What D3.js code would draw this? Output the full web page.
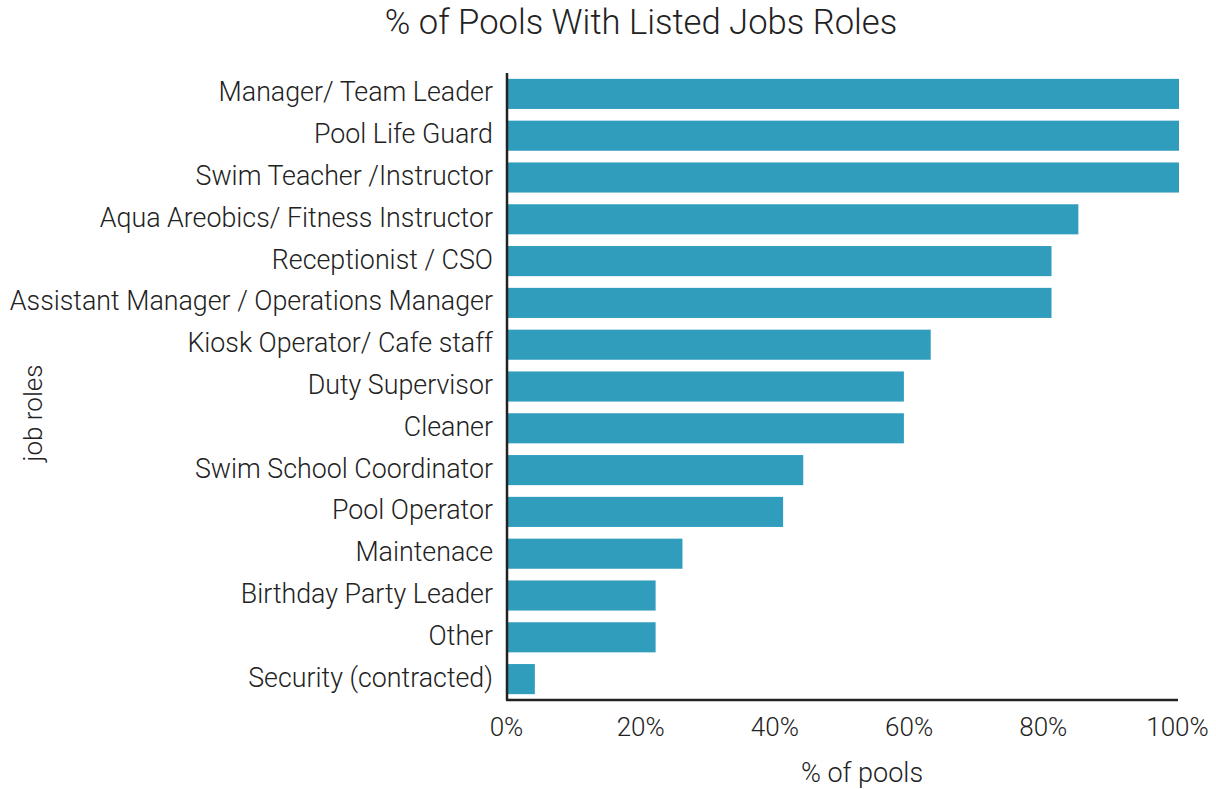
<!DOCTYPE html>
<html>
<head>
<meta charset="utf-8">
<script src="https://cdn.jsdelivr.net/npm/d3@7"></script>
<style>
  html, body { margin: 0; padding: 0; background: #fff; }
  svg { display: block; font-family: Roboto, "Liberation Sans", sans-serif; font-weight: 300; }
</style>
</head>
<body>
<svg id="chart" width="1216" height="789"></svg>
<script>
// Job roles and share of pools that list each one (%)
const roles = [
  "Manager/ Team Leader",
  "Pool Life Guard",
  "Swim Teacher /Instructor",
  "Aqua Areobics/ Fitness Instructor",
  "Receptionist / CSO",
  "Assistant Manager / Operations Manager",
  "Kiosk Operator/ Cafe staff",
  "Duty Supervisor",
  "Cleaner",
  "Swim School Coordinator",
  "Pool Operator",
  "Maintenace",
  "Birthday Party Leader",
  "Other",
  "Security (contracted)"
];
const shares = [100, 100, 100, 85, 81, 81, 63, 59, 59, 44, 41, 26, 22, 22, 4];
const xTicks = [0, 20, 40, 60, 80, 100];

const chartTitle = "% of Pools With Listed Jobs Roles";
const xTitle = "% of pools";
const yTitle = "job roles";

const data = roles.map((r, i) => ({ role: r, value: shares[i] }));

const svg = d3.select("#chart");
const textColor = "#222";
const barColor = "#319dbd";

const plot = { left: 507, right: 1178, top: 73, bottom: 700 };

const x = d3.scaleLinear().domain([0, 100]).range([plot.left + 1, plot.right + 1]);
const y = d3.scaleBand()
  .domain(roles)
  .range([plot.top, plot.bottom])
  .paddingInner(0.28)
  .paddingOuter(0.14);

// bars
svg.append("g")
  .selectAll("rect")
  .data(data)
  .join("rect")
  .attr("x", x(0))
  .attr("y", d => y(d.role))
  .attr("width", d => x(d.value) - x(0))
  .attr("height", y.bandwidth())
  .attr("fill", barColor);

// y axis: category labels, no ticks
const yAxis = svg.append("g")
  .attr("transform", `translate(${plot.left},0)`)
  .call(d3.axisLeft(y).tickSize(0).tickPadding(14));
yAxis.select(".domain").attr("stroke", textColor).attr("stroke-width", 2.5)
  .attr("d", `M0,${plot.top}V${plot.bottom}`);
yAxis.selectAll("text")
  .attr("fill", textColor)
  .attr("dy", "0.28em")
  .style("font-family", "Roboto, sans-serif")
  .style("font-weight", 300)
  .style("font-size", "26.8px");

// x axis: percentage labels, no ticks
const xAxis = svg.append("g")
  .attr("transform", `translate(0,${plot.bottom})`)
  .call(d3.axisBottom(x).tickValues(xTicks).tickFormat(d => d + "%").tickSize(0).tickPadding(18));
xAxis.select(".domain").attr("stroke", textColor).attr("stroke-width", 2.5)
  .attr("d", `M${plot.left - 1},0H${plot.right}`);
xAxis.selectAll("text")
  .attr("fill", textColor)
  .attr("x", -2)
  .style("font-family", "Roboto, sans-serif")
  .style("font-weight", 300)
  .style("font-size", "26px");

// titles
svg.append("text")
  .attr("x", 641).attr("y", 34)
  .attr("text-anchor", "middle")
  .attr("fill", textColor)
  .style("font-size", "34.6px")
  .text(chartTitle);

svg.append("text")
  .attr("x", 862).attr("y", 782)
  .attr("text-anchor", "middle")
  .attr("fill", textColor)
  .style("font-size", "27px")
  .text(xTitle);

svg.append("text")
  .attr("transform", "translate(42,413) rotate(-90)")
  .attr("text-anchor", "middle")
  .attr("fill", textColor)
  .style("font-size", "26px")
  .text(yTitle);
</script>
</body>
</html>
